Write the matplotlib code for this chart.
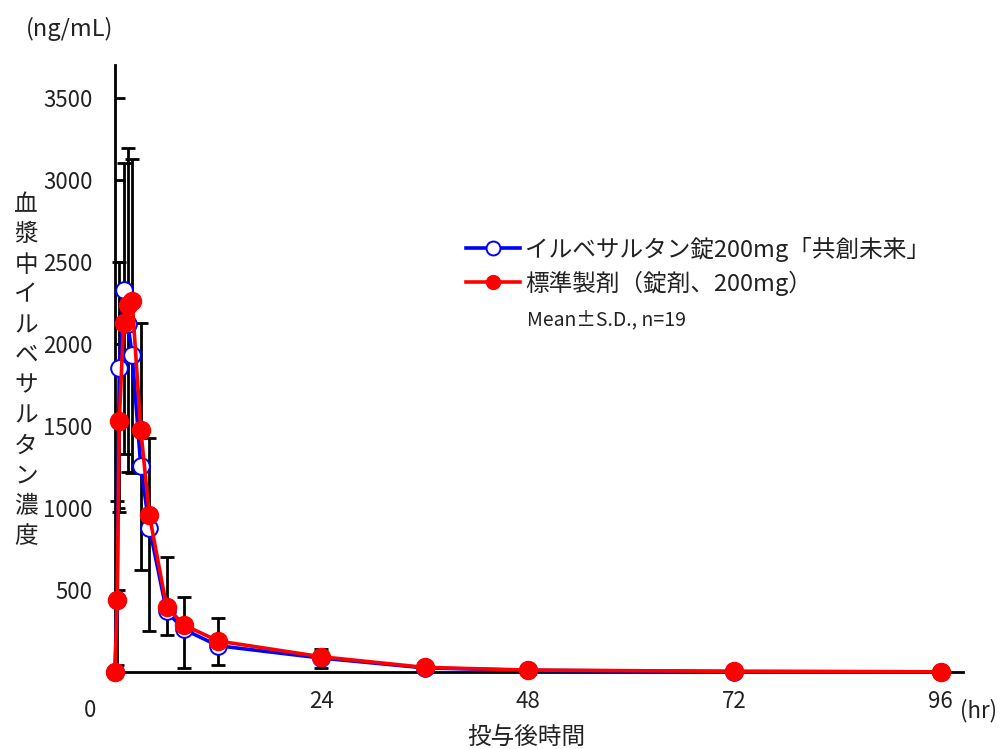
import matplotlib
matplotlib.use("Agg")
import matplotlib.pyplot as plt
from matplotlib.lines import Line2D

plt.rcParams['font.family'] = ['Noto Sans CJK JP', 'DejaVu Sans']

# 投与後時間 (hr)
hours = [0, 0.25, 0.5, 1, 1.5, 2, 3, 4, 6, 8, 12, 24, 36, 48, 72, 96]

# イルベサルタン錠200mg「共創未来」 mean / S.D.
test_mean = [0, 440, 1855, 2330, 2120, 1935, 1256, 880, 370, 260, 160, 85, 25, 10, 3, 1]
test_sd = [0, 400, 880, 1000, 900, 722, 634, 630, 145, 236, 117, 61, 15, 6, 2, 1]

# 標準製剤 mean / S.D.
ref_mean = [0, 440, 1530, 2125, 2240, 2260, 1476, 957, 398, 287, 189, 93, 28, 12, 4, 1]
ref_sd = [0, 600, 970, 975, 955, 870, 652, 470, 302, 170, 141, 47, 10, 5, 2, 1]

y_ticks = [500, 1000, 1500, 2000, 2500, 3000, 3500]
x_ticks = [24, 48, 72, 96]

test_label = 'イルベサルタン錠200mg「共創未来」'
ref_label = '標準製剤（錠剤、200mg）'
y_label = '血漿中イルベサルタン濃度'

fig = plt.figure(figsize=(10.05, 7.49), dpi=100)
ax = fig.add_axes([0.1144, 0.1028, 0.8438, 0.8104])

# one-sided error bars: test downward, reference upward
ax.errorbar(hours, test_mean, yerr=[test_sd, [0] * len(test_sd)], fmt='none',
            ecolor='black', elinewidth=2, capsize=5, capthick=2, zorder=2, clip_on=False)
ax.errorbar(hours, ref_mean, yerr=[[0] * len(ref_sd), ref_sd], fmt='none',
            ecolor='black', elinewidth=2, capsize=5, capthick=2, zorder=2, clip_on=False)

ax.plot(hours, test_mean, color='#0000ff', lw=2.6, marker='o', ms=12,
        mfc='white', mec='#0000ff', mew=1.4, zorder=3, clip_on=False)
ax.plot(hours, ref_mean, color='#ff0000', lw=2.6, marker='o', ms=13,
        mfc='#ff0000', mec='#ff0000', zorder=4, clip_on=False)

ax.set_xlim(0, 98.6)
ax.set_ylim(0, 3700)

for side in ['top', 'right']:
    ax.spines[side].set_visible(False)
for side in ['left', 'bottom']:
    ax.spines[side].set_linewidth(2)
    ax.spines[side].set_zorder(1)

ax.set_yticks(y_ticks)
ax.set_yticklabels([str(v) for v in y_ticks])
ax.tick_params(axis='y', direction='in', length=7, width=2, pad=16,
               labelsize=16, labelcolor='#222222')
ax.set_xticks(x_ticks)
ax.set_xticklabels([str(v) for v in x_ticks])
ax.tick_params(axis='x', length=0, pad=13, labelsize=16, labelcolor='#222222')

# origin label and unit texts
ax.text(-2.9, -165, '0', ha='center', va='top', fontsize=16, color='#222222', clip_on=False)
ax.text(98.2, -165, '(hr)', ha='left', va='top', fontsize=16, color='#222222', clip_on=False)
fig.text(0.069, 0.962, '(ng/mL)', ha='center', va='center', fontsize=17, color='#222222')
fig.text(0.026, 0.505, '\n'.join(y_label), ha='center', va='center', fontsize=17,
         color='#222222', linespacing=1.4)
fig.text(0.524, 0.016, '投与後時間', ha='center', va='center', fontsize=17, color='#222222')

handles = [
    Line2D([], [], color='#0000ff', lw=2.6, marker='o', ms=10, mfc='white', mec='#0000ff', mew=1.4),
    Line2D([], [], color='#ff0000', lw=2.6, marker='o', ms=10, mfc='#ff0000', mec='#ff0000'),
]
fig.legend(handles, [test_label, ref_label], loc='upper left',
           bbox_to_anchor=(0.452, 0.7), frameon=False, fontsize=17,
           handlelength=2.3, handletextpad=0.2, labelspacing=0.38, borderpad=0,
           labelcolor='#222222')
fig.text(0.524, 0.573, 'Mean±S.D., n=19', ha='left', va='center', fontsize=14, color='#222222')

fig.savefig('out.png', dpi=100)
